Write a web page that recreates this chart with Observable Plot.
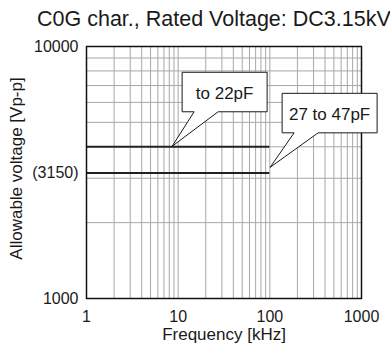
<!DOCTYPE html>
<html><head><meta charset="utf-8">
<script src="https://cdn.jsdelivr.net/npm/d3@7"></script>
<script src="https://cdn.jsdelivr.net/npm/@observablehq/plot@0.6"></script>
<style>
body{margin:0;background:#fff;font-family:"Liberation Sans",Arial,sans-serif;}
#title{box-sizing:border-box;height:30px;padding-top:9px;padding-left:37px;font-size:21.5px;line-height:21px;color:#1a1a1a;white-space:nowrap;}
#chart svg{display:block;}
</style></head><body>
<div id="title">C0G char., Rated Voltage: DC3.15kV</div>
<div id="chart"></div>
<script>
// Series (horizontal limits)
const seriesLabels = ["to 22pF", "27 to 47pF"];
const seriesVoltage = [4000, 3150];
const seriesFreqStart = [1, 1];
const seriesFreqEnd = [100, 100];
// Callout anchor points (data space)
const calloutFreq = [8.7, 102];
const calloutVoltage = [4000, 3300];
// Axes
const xTicks = [1, 10, 100, 1000];
const xTickLabels = ["1", "10", "100", "1000"];
const yTicks = [1000, 3150, 10000];
const yTickLabels = ["1000", "(3150)", "10000"];
const xGrid = [2, 3, 4, 5, 6, 7, 8, 9, 10, 20, 30, 40, 50, 60, 70, 80, 90, 100, 200, 300, 400, 500, 600, 700, 800, 900];
const yGrid = [2000, 3000, 4000, 5000, 6000, 7000, 8000, 9000];
const xLabel = "Frequency [kHz]";
const yLabel = "Allowable voltage [Vp-p]";

const lines = seriesLabels.map((s, i) => ({label: s, v: seriesVoltage[i], f0: seriesFreqStart[i], f1: seriesFreqEnd[i]}));

const FONT = "Liberation Sans, Arial, sans-serif";

function callouts(index, scales) {
  const boxStyle = [{dx: 10, w: 85}, {dx: 12, w: 95}];
  const g = d3.create("svg:g");
  seriesLabels.forEach((label, i) => {
    const tx = scales.x(calloutFreq[i]);
    const ty = scales.y(calloutVoltage[i]);
    const st = boxStyle[i];
    const left = tx + st.dx, right = left + st.w;
    const bottom = ty - 34.5, top = bottom - 39.5;
    const b1 = left + 12, b2 = left + 36;
    g.append("path")
      .attr("d", `M${left},${top}H${right}V${bottom}H${b2}L${tx},${ty}L${b1},${bottom}H${left}Z`)
      .attr("fill", "#fff").attr("stroke", "#1a1a1a").attr("stroke-width", 1);
    g.append("text")
      .attr("x", (left + right) / 2).attr("y", (top + bottom) / 2 + 7)
      .attr("text-anchor", "middle").attr("font-size", 17).attr("font-family", FONT)
      .attr("fill", "#1a1a1a").text(label);
  });
  return g.node();
}

const chart = Plot.plot({
  width: 390, height: 314,
  marginTop: 16, marginBottom: 46, marginLeft: 86, marginRight: 29,
  style: {fontFamily: FONT, fontSize: "16px", color: "#1a1a1a", background: "#fff"},
  x: {type: "log", domain: [1, 1000]},
  y: {type: "log", domain: [1000, 10000]},
  marks: [
    Plot.gridX(xGrid, {stroke: "#a8a8a8", strokeOpacity: 1}),
    Plot.gridY(yGrid, {stroke: "#a8a8a8", strokeOpacity: 1}),
    Plot.ruleY(lines, {y: "v", x1: "f0", x2: "f1", stroke: "#222", strokeWidth: 2}),
    Plot.frame({stroke: "#111", strokeWidth: 1.5}),
    Plot.axisX(xTicks, {tickSize: 0, tickPadding: 12, tickFormat: d => xTickLabels[xTicks.indexOf(d)], fontSize: 16, label: null}),
    Plot.axisY(yTicks, {tickSize: 0, tickPadding: 8, tickFormat: d => yTickLabels[yTicks.indexOf(d)], fontSize: 16, label: null}),
    Plot.text([xLabel], {text: d => d, frameAnchor: "bottom", dy: 29, lineAnchor: "top", fontSize: 17}),
    Plot.text([yLabel], {text: d => d, frameAnchor: "left", dx: -70, dy: -4, rotate: -90, textAnchor: "middle", lineAnchor: "middle", fontSize: 17}),
    callouts
  ]
});
document.getElementById("chart").appendChild(chart);
</script>
</body></html>
